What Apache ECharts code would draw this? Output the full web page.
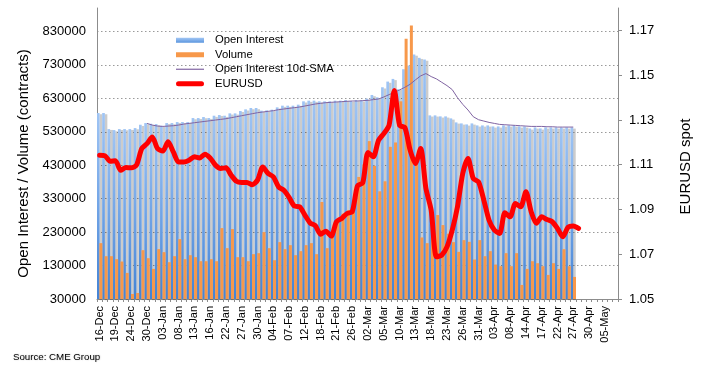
<!DOCTYPE html>
<html>
<head>
<meta charset="utf-8">
<script src="https://cdn.jsdelivr.net/npm/echarts@6/dist/echarts.min.js"></script>
<style>
html,body{margin:0;padding:0;background:#fff;}
#chart{width:701px;height:372px;}
</style>
</head>
<body>
<div id="chart"></div>
<script>
const categories = ['16-Dec','17-Dec','18-Dec','19-Dec','20-Dec','23-Dec','24-Dec','26-Dec','27-Dec','30-Dec','31-Dec',
'02-Jan','03-Jan','06-Jan','07-Jan','08-Jan','09-Jan','10-Jan','13-Jan','14-Jan','15-Jan','16-Jan','17-Jan','21-Jan','22-Jan','23-Jan','24-Jan','27-Jan','28-Jan','29-Jan','30-Jan','31-Jan',
'03-Feb','04-Feb','05-Feb','06-Feb','07-Feb','10-Feb','11-Feb','12-Feb','13-Feb','14-Feb','18-Feb','19-Feb','20-Feb','21-Feb','24-Feb','25-Feb','26-Feb','27-Feb','28-Feb',
'02-Mar','03-Mar','04-Mar','05-Mar','06-Mar','09-Mar','10-Mar','11-Mar','12-Mar','13-Mar','16-Mar','17-Mar','18-Mar','19-Mar','20-Mar','23-Mar','24-Mar','25-Mar','26-Mar','27-Mar','30-Mar','31-Mar',
'01-Apr','02-Apr','03-Apr','06-Apr','07-Apr','08-Apr','09-Apr','13-Apr','14-Apr','15-Apr','16-Apr','17-Apr','20-Apr','21-Apr','22-Apr','23-Apr','24-Apr','27-Apr','28-Apr','29-Apr','30-Apr',
'01-May','04-May','05-May','06-May','07-May'];

const openInterest = [586000,586000,538000,535000,538000,538000,538000,541000,551000,556000,554000,
553000,548000,556000,556000,559000,559000,559000,571000,571000,574000,571000,578000,580000,578000,585000,585000,592000,597000,601000,601000,593000,
594000,596000,603000,608000,608000,608000,611000,621000,623000,623000,621000,621000,621000,623000,623000,625000,622000,625000,624000,
629000,640000,633000,663000,680000,688000,657000,717000,728000,761000,751000,746000,579000,579000,576000,576000,570000,558000,555000,552000,555000,549000,
549000,549000,546000,546000,549000,549000,549000,546000,546000,540000,543000,540000,543000,543000,543000,543000,543000,543000];

const volume = [197000,158000,158000,149000,142000,108000,45000,48000,176000,152000,120000,
179000,170000,140000,158000,209000,149000,161000,155000,143000,143000,149000,143000,242000,182000,239000,155000,155000,143000,164000,167000,230000,
182000,146000,200000,179000,191000,161000,173000,191000,197000,164000,320000,182000,215000,262000,285000,295000,290000,395000,433000,
502000,428000,352000,382000,485000,498000,621000,808000,848000,435000,214000,197000,290000,281000,251000,225000,200000,171000,206000,201000,148000,206000,
158000,173000,133000,128000,167000,128000,167000,72000,120000,143000,137000,128000,102000,137000,120000,179000,128000,96000];

const oiSma10 = [null,null,null,null,null,null,null,null,null,555000,550000,
547000,546000,547000,548000,550000,553000,555000,557000,559000,561000,563000,565000,567000,569000,572000,575000,578000,581000,584000,587000,589000,
591000,593000,596000,598000,600000,602000,604000,607000,610000,613000,615000,617000,618000,619000,620000,621000,622000,622000,623000,
624000,626000,628000,634000,641000,648000,655000,663000,672000,685000,697000,704000,695000,688000,678000,668000,656000,632000,612000,595000,575000,566000,
562000,558000,555000,552000,551000,550000,549000,548000,547000,546000,546000,546000,545000,545000,544000,544000,544000,544000];

const eurusd = [1.1142,1.1140,1.1115,1.1118,1.1075,1.1087,1.1086,1.1098,1.1172,1.1194,1.1224,
1.1172,1.1161,1.1202,1.1157,1.1112,1.1112,1.1120,1.1135,1.1130,1.1147,1.1130,1.1098,1.1083,1.1086,1.1053,1.1026,1.1021,1.1021,1.1010,1.1031,1.1090,
1.1061,1.1046,1.1001,1.0986,1.0954,1.0915,1.0912,1.0875,1.0840,1.0827,1.0789,1.0803,1.0781,1.0845,1.0860,1.0882,1.0890,1.1006,1.1019,
1.1155,1.1135,1.1209,1.1239,1.1276,1.1432,1.1276,1.1266,1.1165,1.1105,1.1172,1.0994,1.0897,1.0689,1.0696,1.0733,1.0808,1.0912,1.1061,1.1128,1.1038,1.1023,
1.0942,1.0852,1.0808,1.0793,1.0885,1.0867,1.0927,1.0912,1.0979,1.0890,1.0838,1.0867,1.0855,1.0845,1.0815,1.0778,1.0820,1.0826,1.0815];

const leftTicks = {min: 30000, max: 900000, interval: 100000};
const rightTicks = {min: 1.05, max: 1.18, interval: 0.02};

const FONT = '"Liberation Sans", Arial, Helvetica, sans-serif';
const chart = echarts.init(document.getElementById('chart'), null, {renderer: 'canvas'});

const blueGrad = new echarts.graphic.LinearGradient(0, 0, 0, 1, [
  {offset: 0, color: '#a0c5f4'},
  {offset: 0.5, color: '#72a5e7'},
  {offset: 1, color: '#4383d5'}
]);
const legendBlue = new echarts.graphic.LinearGradient(0, 0, 0, 1, [
  {offset: 0, color: '#a3c7f5'},
  {offset: 1, color: '#5a95de'}
]);

const option = {
  animation: false,
  backgroundColor: '#ffffff',
  textStyle: {fontFamily: FONT},
  grid: {left: 97, right: 83, top: 8, bottom: 73, containLabel: false},
  legend: {
    orient: 'vertical',
    left: 176,
    top: 33,
    padding: 0,
    itemWidth: 28,
    itemHeight: 5,
    itemGap: 0,
    selectedMode: false,
    symbolKeepAspect: true,
    textStyle: {fontFamily: FONT, fontSize: 11.3, color: '#000', lineHeight: 14.5, padding: [0, 0, 0, 6]},
    data: [
      {name: 'Open Interest', icon: 'rect', itemStyle: {color: legendBlue}},
      {name: 'Volume', icon: 'rect'},
      {name: 'Open Interest 10d-SMA', icon: 'path://M0,0L28,0L28,1.2L0,1.2Z', itemStyle: {color: '#8064a2'}},
      {name: 'EURUSD', icon: 'path://M2.5,0L25.5,0A2.5,2.5 0 0 1 25.5,5L2.5,5A2.5,2.5 0 0 1 2.5,0Z', itemStyle: {color: '#ff0000'}}
    ]
  },
  xAxis: {
    type: 'category',
    data: categories,
    boundaryGap: true,
    axisLine: {lineStyle: {color: '#8c8c8c', width: 1}},
    axisTick: {show: true, interval: 0, length: 3, lineStyle: {color: '#8c8c8c'}},
    axisLabel: {interval: 2, rotate: 90, margin: 7, fontSize: 11, color: '#000', fontFamily: FONT},
    splitLine: {show: false}
  },
  yAxis: [
    {
      type: 'value',
      position: 'left',
      min: leftTicks.min,
      max: leftTicks.max,
      interval: leftTicks.interval,
      name: 'Open Interest / Volume (contracts)',
      nameLocation: 'middle',
      nameGap: 66,
      nameTextStyle: {fontSize: 15, color: '#000', fontFamily: FONT, padding: [0, 20, 0, 0]},
      axisLine: {show: true, lineStyle: {color: '#8c8c8c'}},
      axisTick: {show: false},
      axisLabel: {margin: 11, fontSize: 13, color: '#000', fontFamily: FONT, showMaxLabel: false,
                  formatter: v => String(Math.round(v))},
      splitLine: {show: true, showMinLine: false, showMaxLine: false,
                  lineStyle: {color: '#9a9a9a', width: 1, type: [1.5, 2.5]}}
    },
    {
      type: 'value',
      position: 'right',
      min: rightTicks.min,
      max: rightTicks.max,
      interval: rightTicks.interval,
      name: 'EURUSD spot',
      nameLocation: 'middle',
      nameGap: 60,
      nameRotate: 90,
      nameTextStyle: {fontSize: 15, color: '#000', fontFamily: FONT, padding: [0, 26, 0, 0]},
      axisLine: {show: true, lineStyle: {color: '#8c8c8c'}},
      axisTick: {show: true, length: 4, inside: false, lineStyle: {color: '#8c8c8c'}},
      axisLabel: {margin: 11, fontSize: 13, color: '#000', fontFamily: FONT, showMaxLabel: false,
                  formatter: v => v.toFixed(2)},
      splitLine: {show: false}
    }
  ],
  series: [
    {
      name: 'Open Interest',
      type: 'bar',
      yAxisIndex: 0,
      data: openInterest,
      barWidth: 2.7,
      barGap: '0%',
      itemStyle: {color: blueGrad, shadowColor: 'rgba(0,0,0,0.2)', shadowBlur: 0.6, shadowOffsetX: 2.5, shadowOffsetY: 1.2}
    },
    {
      name: 'Volume',
      type: 'bar',
      yAxisIndex: 0,
      data: volume,
      barWidth: 3.0,
      barGap: '-8%',
      itemStyle: {color: '#f7984a'}
    },
    {
      name: 'Open Interest 10d-SMA',
      type: 'line',
      yAxisIndex: 0,
      data: oiSma10,
      symbol: 'none',
      connectNulls: false,
      lineStyle: {color: '#8064a2', width: 1},
      itemStyle: {color: '#8064a2'}
    },
    {
      name: 'EURUSD',
      type: 'line',
      yAxisIndex: 1,
      data: eurusd,
      symbol: 'none',
      smooth: 0.25,
      lineStyle: {color: '#ff0000', width: 5, cap: 'round', join: 'round'},
      itemStyle: {color: '#ff0000'}
    }
  ],
  graphic: [
    {
      type: 'text',
      left: 13,
      top: 352,
      style: {text: 'Source: CME Group', fontSize: 9.7, fontFamily: FONT, fill: '#000',
              textShadowColor: 'rgba(0,0,0,0.25)', textShadowBlur: 1.5, textShadowOffsetX: 0.5, textShadowOffsetY: 0.5}
    }
  ]
};
chart.setOption(option);
</script>
</body>
</html>
